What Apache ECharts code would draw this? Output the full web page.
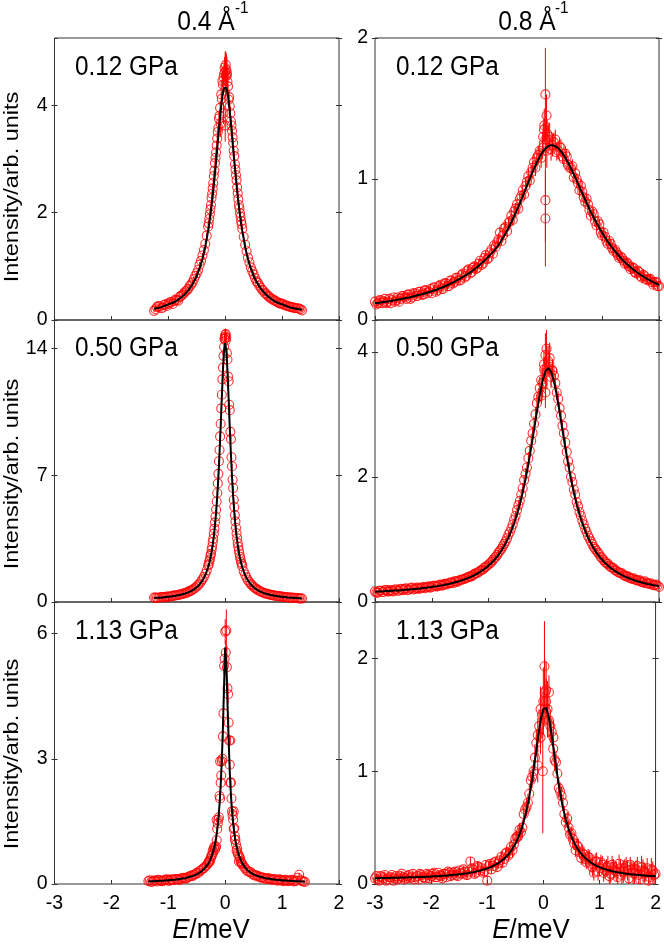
<!DOCTYPE html>
<html>
<head>
<meta charset="utf-8">
<script src="https://cdn.jsdelivr.net/npm/echarts@6/dist/echarts.min.js"></script>
<style>
html,body{margin:0;padding:0;background:#fff;}
#chart{width:664px;height:944px;}
</style>
</head>
<body>
<div id="chart"></div>
<script>
// ---------------- DATA ----------------
// Energy grids, left column (Q = 0.4 1/Å): two interleaved sets
const xL = [-1.35,-1.30,-1.25,-1.20,-1.15,-1.10,-1.05,-1.00,-0.95,-0.90,-0.85,-0.80,-0.75,-0.70,-0.65,-0.60,-0.55,-0.50,-0.45,-0.40,-0.35,
 -0.30,-0.28,-0.26,-0.24,-0.22,-0.20,-0.18,-0.16,-0.14,-0.12,-0.10,-0.08,-0.06,-0.04,-0.02,0.00,0.02,0.04,0.06,0.08,0.10,0.12,0.14,0.16,0.18,0.20,0.22,0.24,0.26,0.28,0.30,
 0.35,0.40,0.45,0.50,0.55,0.60,0.65,0.70,0.75,0.80,0.85,0.90,0.95,1.00,1.05,1.10,1.15,1.20,1.25,1.30,1.35,1.40];
const xL2 = [-1.325,-1.275,-1.225,-1.175,-1.125,-1.075,-1.025,-0.975,-0.925,-0.875,-0.825,-0.775,-0.725,-0.675,-0.625,-0.575,-0.525,-0.475,-0.425,-0.375,-0.325,
 -0.29,-0.27,-0.25,-0.23,-0.21,-0.19,-0.17,-0.15,-0.13,-0.11,-0.09,-0.07,-0.05,-0.03,-0.01,0.01,0.03,0.05,0.07,0.09,0.11,0.13,0.15,0.17,0.19,0.21,0.23,0.25,0.27,0.29,
 0.325,0.375,0.425,0.475,0.525,0.575,0.625,0.675,0.725,0.775,0.825,0.875,0.925,0.975,1.025,1.075,1.125,1.175,1.225,1.275,1.325,1.375];

// Energy grids, right column (Q = 0.8 1/Å): two interleaved sets
const xR = [-3.00,-2.95,-2.90,-2.85,-2.80,-2.75,-2.70,-2.65,-2.60,-2.55,
 -2.50,-2.45,-2.40,-2.35,-2.30,-2.25,-2.20,-2.15,-2.10,-2.05,
 -2.00,-1.95,-1.90,-1.85,-1.80,-1.75,-1.70,-1.65,-1.60,-1.55,
 -1.50,-1.45,-1.40,-1.35,-1.30,-1.25,-1.20,-1.15,-1.10,-1.05,
 -1.00,-0.95,-0.90,-0.85,-0.80,-0.75,-0.70,-0.65,-0.60,-0.55,
 -0.50,-0.45,-0.40,-0.35,-0.30,-0.25,-0.20,-0.15,-0.10,-0.05,
 0.00,0.05,0.10,0.15,0.20,0.25,0.30,0.35,0.40,0.45,
 0.50,0.55,0.60,0.65,0.70,0.75,0.80,0.85,0.90,0.95,
 1.00,1.05,1.10,1.15,1.20,1.25,1.30,1.35,1.40,1.45,
 1.50,1.55,1.60,1.65,1.70,1.75,1.80,1.85,1.90,1.95,
 2.00];
const xR2 = [-2.975,-2.925,-2.875,-2.825,-2.775,-2.725,-2.675,-2.625,-2.575,-2.525,
 -2.475,-2.425,-2.375,-2.325,-2.275,-2.225,-2.175,-2.125,-2.075,-2.025,
 -1.975,-1.925,-1.875,-1.825,-1.775,-1.725,-1.675,-1.625,-1.575,-1.525,
 -1.475,-1.425,-1.375,-1.325,-1.275,-1.225,-1.175,-1.125,-1.075,-1.025,
 -0.975,-0.925,-0.875,-0.825,-0.775,-0.725,-0.675,-0.625,-0.575,-0.525,
 -0.475,-0.425,-0.375,-0.325,-0.275,-0.225,-0.175,-0.125,-0.075,-0.025,
 0.025,0.075,0.125,0.175,0.225,0.275,0.325,0.375,0.425,0.475,
 0.525,0.575,0.625,0.675,0.725,0.775,0.825,0.875,0.925,0.975,
 1.025,1.075,1.125,1.175,1.225,1.275,1.325,1.375,1.425,1.475,
 1.525,1.575,1.625,1.675,1.725,1.775,1.825,1.875,1.925,1.975];

// Panel A: 0.4 1/Å, 0.12 GPa
const fitA = [null,null,0.21,0.22,0.23,0.25,0.27,0.29,0.31,0.33,0.36,0.40,0.44,0.49,0.55,0.62,0.71,0.82,0.96,1.13,1.36,
 1.66,1.79,1.95,2.12,2.30,2.51,2.73,2.95,3.19,3.43,3.67,3.89,4.08,4.23,4.32,4.35,4.32,4.23,4.08,3.89,3.67,3.43,3.19,2.95,2.73,2.51,2.30,2.12,1.95,1.79,1.66,
 1.36,1.13,0.96,0.82,0.71,0.62,0.55,0.49,0.44,0.40,0.36,0.33,0.31,0.29,0.27,0.25,0.23,0.22,0.21,0.20,0.19,null];
const yA = [null,null,0.17,0.24,0.25,0.23,0.29,0.30,0.33,0.35,0.37,0.43,0.47,0.53,0.58,0.66,0.76,0.87,1.03,1.20,1.42,
 1.74,1.88,2.06,2.27,2.45,2.68,2.92,3.12,3.38,3.58,3.80,3.66,4.12,4.38,4.58,4.62,4.66,4.44,4.10,3.98,3.70,3.52,3.30,3.05,2.80,2.60,2.36,2.14,1.99,1.84,1.70,
 1.40,1.16,0.98,0.85,0.72,0.64,0.56,0.50,0.45,0.40,0.37,0.34,0.31,0.30,0.27,0.26,0.24,0.23,0.22,0.21,0.18,null];
const yA2 = [null,null,0.20,0.26,0.22,0.28,0.26,0.33,0.30,0.38,0.36,0.45,0.50,0.55,0.63,0.70,0.82,0.93,1.10,1.30,1.57,
 1.80,1.97,2.14,2.35,2.55,2.78,3.02,3.25,3.50,3.75,3.95,4.20,4.45,4.52,4.70,4.55,4.60,4.35,4.15,3.85,3.62,3.40,3.15,2.90,2.70,2.47,2.25,2.08,1.92,1.78,
 1.55,1.28,1.07,0.91,0.78,0.69,0.60,0.54,0.48,0.43,0.39,0.36,0.33,0.31,0.29,0.27,0.25,0.24,0.22,0.22,0.20,null];
const eA = [0,0,0.03,0.03,0.03,0.03,0.03,0.03,0.03,0.03,0.03,0.03,0.03,0.04,0.04,0.04,0.04,0.05,0.05,0.05,0.06,
 0.06,0.07,0.07,0.07,0.08,0.08,0.08,0.09,0.10,0.10,0.12,0.25,0.12,0.15,0.20,0.38,0.30,0.18,0.14,0.12,0.10,0.10,0.09,0.08,0.08,0.08,0.07,0.07,0.07,0.06,0.06,
 0.06,0.05,0.05,0.05,0.04,0.04,0.04,0.04,0.03,0.03,0.03,0.03,0.03,0.03,0.03,0.03,0.03,0.03,0.03,0.03,0.03,0];
const extraA = [[0.00,3.62,0.30],[0.01,4.75,0.25],[-0.03,3.85,0.20],[0.03,4.55,0.20]];

// Panel C: 0.4 1/Å, 0.50 GPa
const fitC = [null,null,0.22,0.23,0.24,0.25,0.27,0.29,0.31,0.33,0.36,0.39,0.43,0.47,0.53,0.60,0.70,0.81,0.97,1.18,1.48,
 1.92,2.15,2.42,2.75,3.15,3.63,4.22,4.94,5.82,6.90,8.19,9.67,11.26,12.77,13.89,14.30,13.89,12.77,11.26,9.67,8.19,6.90,5.82,4.94,4.22,3.63,3.15,2.75,2.42,2.15,1.92,
 1.48,1.18,0.97,0.81,0.70,0.60,0.53,0.47,0.43,0.39,0.36,0.33,0.31,0.29,0.27,0.25,0.24,0.23,0.22,0.21,0.20,null];
const yC = [null,null,0.25,0.23,0.26,0.27,0.27,0.30,0.32,0.35,0.37,0.41,0.45,0.49,0.56,0.63,0.73,0.86,1.02,1.25,1.56,
 2.02,2.25,2.55,2.88,3.30,3.78,4.40,5.10,6.02,7.08,8.40,9.85,11.45,12.95,14.10,14.75,14.60,13.40,12.20,10.60,9.00,7.50,6.30,5.25,4.45,3.80,3.25,2.85,2.50,2.20,1.98,
 1.52,1.20,0.99,0.83,0.71,0.61,0.53,0.47,0.43,0.39,0.36,0.33,0.31,0.29,0.27,0.25,0.24,0.22,0.22,0.20,0.19,null];
const yC2 = [null,null,0.24,0.22,0.26,0.25,0.30,0.29,0.34,0.36,0.39,0.43,0.47,0.52,0.60,0.68,0.79,0.94,1.13,1.38,1.75,
 2.08,2.35,2.66,3.05,3.50,4.05,4.72,5.55,6.55,7.78,9.15,10.70,12.30,13.60,14.55,14.45,13.75,12.45,10.90,9.40,8.00,6.75,5.65,4.80,4.10,3.52,3.05,2.68,2.36,2.10,
 1.70,1.36,1.10,0.92,0.77,0.67,0.58,0.51,0.46,0.42,0.38,0.35,0.33,0.31,0.29,0.27,0.25,0.24,0.23,0.21,0.20,null];
const eC = [0,0,0.03,0.03,0.03,0.03,0.03,0.03,0.03,0.03,0.03,0.03,0.03,0.03,0.03,0.04,0.04,0.04,0.05,0.05,0.06,
 0.06,0.07,0.07,0.08,0.08,0.09,0.10,0.11,0.12,0.13,0.15,0.16,0.18,0.20,0.22,0.35,0.25,0.20,0.18,0.16,0.15,0.13,0.12,0.11,0.10,0.09,0.08,0.08,0.07,0.07,0.06,
 0.06,0.05,0.05,0.04,0.04,0.04,0.03,0.03,0.03,0.03,0.03,0.03,0.03,0.03,0.03,0.03,0.03,0.03,0.03,0.03,0.03,0];
const extraC = [[0.00,14.65,0.35],[-0.01,14.55,0.30],[0.01,14.80,0.30]];

// Panel E: 0.4 1/Å, 1.13 GPa
const fitE = [0.062,0.065,0.068,0.072,0.075,0.080,0.085,0.090,0.095,0.100,0.110,0.120,0.130,0.140,0.160,0.180,0.200,0.230,0.270,0.320,0.400,
 0.48,0.53,0.59,0.66,0.74,0.84,0.96,1.11,1.30,1.56,1.90,2.35,2.95,3.75,4.75,5.67,5.25,4.35,3.45,2.70,2.15,1.75,1.45,1.22,1.04,0.90,0.79,0.70,0.62,0.56,0.50,
 0.40,0.32,0.27,0.23,0.20,0.18,0.16,0.14,0.13,0.12,0.11,0.10,0.095,0.090,0.085,0.080,0.075,0.072,0.068,0.065,0.062,0.060];
const yE = [0.07,0.05,0.08,0.06,0.09,0.07,0.10,0.08,0.11,0.09,0.12,0.10,0.14,0.13,0.17,0.20,0.22,0.27,0.31,0.36,0.42,
 0.50,0.56,0.60,0.68,0.80,0.86,0.82,0.90,1.32,1.54,2.11,2.43,2.94,3.54,5.23,6.05,6.08,4.69,3.87,2.86,2.43,1.74,1.54,1.34,1.06,0.80,0.74,0.54,0.62,0.52,0.47,
 0.38,0.30,0.28,0.22,0.21,0.17,0.16,0.13,0.14,0.11,0.12,0.09,0.11,0.08,0.10,0.07,0.09,0.06,0.08,0.22,0.07,0.05];
const yE2 = [0.09,0.06,0.08,0.10,0.07,0.09,0.11,0.08,0.10,0.12,0.11,0.13,0.15,0.14,0.18,0.19,0.24,0.26,0.33,0.38,0.45,
 0.52,0.54,0.64,0.70,0.76,0.90,0.88,1.05,1.45,1.60,2.05,2.60,3.00,4.09,5.40,5.55,5.20,4.55,3.44,2.43,2.05,1.65,1.32,1.15,0.95,0.85,0.70,0.66,0.55,0.50,
 0.42,0.33,0.29,0.24,0.20,0.19,0.15,0.15,0.12,0.13,0.10,0.11,0.08,0.10,0.07,0.09,0.08,0.10,0.07,0.15,0.09,0.06];
const eE = [0.03,0.02,0.03,0.02,0.03,0.02,0.03,0.02,0.03,0.02,0.03,0.02,0.03,0.03,0.03,0.03,0.03,0.04,0.04,0.04,0.05,
 0.05,0.05,0.05,0.06,0.06,0.06,0.06,0.07,0.07,0.08,0.09,0.10,0.12,0.14,0.20,0.30,0.50,0.22,0.15,0.12,0.10,0.09,0.08,0.07,0.07,0.06,0.06,0.06,0.05,0.05,0.05,
 0.04,0.04,0.04,0.03,0.03,0.03,0.03,0.02,0.03,0.02,0.03,0.02,0.03,0.02,0.03,0.02,0.03,0.02,0.03,0.05,0.03,0.02];
const extraE = [[0.09,3.44,0.10],[-0.09,2.94,0.10],[0.15,1.74,0.06],[-0.15,1.54,0.06],[0.17,1.06,0.05]];

// Panel B: 0.8 1/Å, 0.12 GPa
const fitB = [0.118,0.121,0.124,0.127,0.130,0.133,0.137,0.140,0.144,0.148,
 0.152,0.156,0.160,0.165,0.170,0.175,0.180,0.186,0.192,0.198,
 0.204,0.211,0.218,0.226,0.234,0.243,0.252,0.262,0.272,0.283,
 0.294,0.306,0.318,0.331,0.345,0.360,0.376,0.393,0.411,0.430,
 0.450,0.471,0.494,0.519,0.548,0.580,0.615,0.653,0.693,0.736,
 0.781,0.828,0.877,0.927,0.977,1.027,1.074,1.118,1.158,1.191,
 1.216,1.233,1.240,1.237,1.227,1.209,1.183,1.152,1.116,1.076,
 1.033,0.988,0.943,0.898,0.853,0.809,0.767,0.727,0.688,0.652,
 0.618,0.585,0.555,0.527,0.500,0.475,0.452,0.430,0.410,0.391,
 0.374,0.357,0.342,0.328,0.314,0.302,0.290,0.279,0.269,0.259,
 0.250];
const yB = [0.13,0.12,0.14,0.13,0.12,0.15,0.14,0.13,0.16,0.15,
 0.17,0.15,0.18,0.16,0.19,0.17,0.20,0.18,0.21,0.20,
 0.19,0.23,0.21,0.25,0.22,0.26,0.24,0.28,0.27,0.30,
 0.28,0.33,0.31,0.36,0.34,0.38,0.37,0.42,0.40,0.46,
 0.44,0.50,0.53,0.55,0.62,0.60,0.66,0.69,0.74,0.77,
 0.82,0.86,0.92,0.95,1.02,1.05,1.12,1.15,1.20,1.22,
 1.28,1.28,1.21,1.26,1.19,1.23,1.16,1.18,1.10,1.08,
 1.01,1.00,0.92,0.91,0.84,0.82,0.74,0.75,0.67,0.68,
 0.60,0.59,0.54,0.54,0.49,0.48,0.44,0.44,0.40,0.40,
 0.36,0.37,0.33,0.34,0.30,0.31,0.28,0.29,0.25,0.27,
 0.24];
const yB2 = [0.11,0.14,0.12,0.15,0.13,0.12,0.16,0.14,0.13,0.17,
 0.16,0.18,0.15,0.19,0.17,0.20,0.18,0.21,0.19,0.22,
 0.23,0.20,0.24,0.22,0.26,0.24,0.28,0.26,0.30,0.28,
 0.32,0.30,0.35,0.33,0.37,0.36,0.40,0.39,0.44,0.43,
 0.48,0.47,0.52,0.57,0.56,0.65,0.63,0.70,0.71,0.79,
 0.79,0.88,0.89,0.98,0.99,1.08,1.08,1.17,1.15,1.35,
 1.20,1.30,1.24,1.28,1.20,1.22,1.14,1.16,1.08,1.09,
 1.04,0.97,0.95,0.87,0.86,0.78,0.77,0.70,0.70,0.62,
 0.62,0.56,0.56,0.51,0.50,0.46,0.45,0.42,0.41,0.38,
 0.37,0.34,0.35,0.31,0.32,0.29,0.29,0.27,0.27,0.24];
const eB = [0.02,0.03,0.02,0.02,0.03,0.02,0.02,0.03,0.02,0.02,
 0.03,0.02,0.02,0.03,0.02,0.02,0.03,0.02,0.02,0.03,
 0.02,0.02,0.03,0.02,0.02,0.03,0.02,0.02,0.03,0.02,
 0.03,0.02,0.03,0.03,0.02,0.03,0.03,0.02,0.03,0.03,
 0.03,0.03,0.03,0.04,0.03,0.03,0.04,0.03,0.04,0.04,
 0.04,0.04,0.04,0.04,0.05,0.05,0.06,0.06,0.07,0.08,
 0.12,0.10,0.08,0.07,0.06,0.06,0.05,0.05,0.04,0.05,
 0.04,0.04,0.05,0.04,0.04,0.04,0.03,0.04,0.04,0.03,
 0.04,0.03,0.04,0.03,0.03,0.04,0.03,0.03,0.04,0.03,
 0.03,0.04,0.03,0.03,0.04,0.03,0.03,0.04,0.03,0.03,
 0.04];
const extraB = [[0.00,1.60,0.33],[0.00,0.85,0.30],[0.00,0.72,0.34],[0.02,1.45,0.15],[-0.02,1.38,0.12],[0.03,1.32,0.10],[-0.04,1.30,0.10]];

// Panel D: 0.8 1/Å, 0.50 GPa
const fitD = [0.165,0.167,0.169,0.171,0.174,0.176,0.179,0.182,0.185,0.188,
 0.192,0.195,0.199,0.203,0.208,0.212,0.217,0.222,0.228,0.234,
 0.240,0.247,0.254,0.262,0.270,0.280,0.289,0.300,0.312,0.324,
 0.338,0.353,0.369,0.388,0.407,0.429,0.454,0.481,0.511,0.544,
 0.582,0.624,0.672,0.726,0.787,0.857,0.938,1.030,1.136,1.259,
 1.400,1.564,1.751,1.965,2.206,2.471,2.753,3.040,3.310,3.536,
 3.687,3.740,3.687,3.536,3.310,3.040,2.753,2.471,2.206,1.965,
 1.751,1.564,1.400,1.259,1.136,1.030,0.938,0.857,0.787,0.726,
 0.672,0.624,0.582,0.544,0.511,0.481,0.454,0.429,0.407,0.388,
 0.369,0.353,0.338,0.324,0.312,0.300,0.289,0.280,0.270,0.262,
 0.254];
const yD = [0.17,0.15,0.18,0.16,0.19,0.17,0.18,0.20,0.18,0.21,
 0.19,0.22,0.20,0.23,0.21,0.23,0.22,0.24,0.23,0.25,
 0.24,0.26,0.25,0.28,0.27,0.29,0.30,0.31,0.33,0.32,
 0.35,0.36,0.38,0.40,0.41,0.45,0.46,0.50,0.52,0.56,
 0.60,0.64,0.70,0.75,0.82,0.89,0.97,1.08,1.18,1.32,
 1.47,1.62,1.82,2.05,2.30,2.58,2.85,3.18,3.42,3.50,
 3.95,3.85,3.60,3.62,3.35,3.10,2.82,2.55,2.25,2.00,
 1.80,1.60,1.44,1.30,1.17,1.06,0.97,0.88,0.82,0.76,
 0.70,0.64,0.61,0.56,0.54,0.50,0.47,0.46,0.42,0.41,
 0.38,0.38,0.35,0.35,0.32,0.33,0.30,0.30,0.27,0.28,
 0.24];
const yD2 = [0.15,0.18,0.16,0.19,0.17,0.19,0.17,0.20,0.18,0.20,
 0.21,0.19,0.22,0.20,0.22,0.21,0.23,0.22,0.24,0.23,
 0.26,0.25,0.27,0.26,0.29,0.28,0.31,0.30,0.33,0.34,
 0.36,0.37,0.39,0.41,0.43,0.46,0.48,0.51,0.55,0.58,
 0.62,0.67,0.72,0.79,0.85,0.93,1.02,1.12,1.24,1.38,
 1.55,1.72,1.95,2.15,2.42,2.70,3.00,3.28,3.55,3.80,
 3.75,3.90,3.70,3.50,3.25,2.98,2.70,2.40,2.15,1.92,
 1.72,1.53,1.38,1.24,1.12,1.02,0.93,0.85,0.79,0.72,
 0.67,0.62,0.58,0.55,0.51,0.48,0.46,0.43,0.41,0.39,
 0.37,0.36,0.34,0.33,0.31,0.30,0.29,0.28,0.27,0.26];
const eD = [0.02,0.03,0.02,0.02,0.03,0.02,0.03,0.02,0.02,0.03,
 0.02,0.03,0.02,0.03,0.02,0.02,0.03,0.02,0.03,0.02,
 0.03,0.02,0.03,0.02,0.03,0.03,0.02,0.03,0.03,0.03,
 0.03,0.03,0.03,0.03,0.03,0.04,0.03,0.04,0.04,0.04,
 0.04,0.04,0.04,0.05,0.05,0.05,0.05,0.06,0.06,0.07,
 0.07,0.08,0.08,0.09,0.10,0.11,0.12,0.14,0.18,0.22,
 0.35,0.25,0.18,0.14,0.12,0.10,0.09,0.08,0.08,0.07,
 0.07,0.06,0.06,0.05,0.05,0.05,0.04,0.04,0.04,0.04,
 0.04,0.03,0.04,0.03,0.03,0.04,0.03,0.03,0.03,0.03,
 0.03,0.03,0.03,0.03,0.03,0.03,0.03,0.03,0.03,0.03,
 0.03];
const extraD = [[0.00,3.35,0.25],[0.02,4.05,0.30],[-0.02,3.72,0.20],[0.07,3.80,0.15],[-0.07,3.30,0.12],[0.12,3.70,0.12]];

// Panel F: 0.8 1/Å, 1.13 GPa
const fitF = [0.052,0.052,0.053,0.053,0.054,0.054,0.055,0.055,0.056,0.057,
 0.057,0.058,0.059,0.059,0.060,0.061,0.062,0.063,0.064,0.065,
 0.067,0.068,0.069,0.071,0.073,0.074,0.076,0.079,0.081,0.083,
 0.086,0.089,0.093,0.096,0.101,0.105,0.110,0.116,0.123,0.130,
 0.138,0.148,0.159,0.172,0.186,0.204,0.224,0.248,0.277,0.312,
 0.355,0.408,0.473,0.553,0.653,0.777,0.927,1.099,1.282,1.447,
 1.551,1.562,1.474,1.318,1.136,0.960,0.805,0.676,0.572,0.487,
 0.420,0.365,0.320,0.284,0.254,0.229,0.208,0.190,0.174,0.161,
 0.150,0.140,0.132,0.124,0.117,0.111,0.106,0.101,0.097,0.093,
 0.090,0.087,0.084,0.081,0.079,0.077,0.075,0.073,0.071,0.070,
 0.068];
const yF = [0.05,0.04,0.07,0.05,0.03,0.06,0.08,0.05,0.04,0.07,
 0.06,0.05,0.08,0.06,0.04,0.07,0.09,0.06,0.05,0.08,
 0.07,0.10,0.06,0.08,0.05,0.09,0.11,0.07,0.10,0.08,
 0.12,0.09,0.11,0.08,0.20,0.13,0.10,0.15,0.14,0.11,
 0.03,0.18,0.16,0.20,0.18,0.24,0.22,0.28,0.27,0.30,
 0.40,0.42,0.46,0.62,0.68,0.80,0.95,1.12,1.32,1.55,
 1.62,1.72,1.45,1.35,1.10,0.98,0.82,0.72,0.55,0.50,
 0.45,0.36,0.34,0.28,0.27,0.22,0.24,0.18,0.10,0.20,
 0.14,0.17,0.12,0.16,0.09,0.15,0.11,0.18,0.08,0.14,
 0.12,0.17,0.10,0.13,0.08,0.15,0.11,0.14,0.06,0.12,
 0.09];
const yF2 = [0.07,0.03,0.06,0.08,0.04,0.06,0.03,0.07,0.05,0.09,
 0.04,0.07,0.05,0.09,0.06,0.04,0.08,0.06,0.09,0.05,
 0.09,0.06,0.10,0.07,0.09,0.06,0.10,0.08,0.11,0.07,
 0.10,0.13,0.08,0.11,0.14,0.09,0.16,0.12,0.10,0.17,
 0.16,0.13,0.19,0.15,0.21,0.19,0.27,0.25,0.33,0.35,
 0.42,0.48,0.50,0.66,0.72,0.92,1.00,1.25,1.40,1.50,
 1.70,1.55,1.40,1.20,1.08,0.85,0.78,0.62,0.58,0.44,
 0.40,0.30,0.33,0.23,0.26,0.19,0.23,0.15,0.20,0.11,
 0.19,0.10,0.15,0.07,0.17,0.12,0.06,0.14,0.11,0.16,
 0.05,0.13,0.09,0.16,0.04,0.12,0.10,0.03,0.13,0.08];
const eF = [0.02,0.03,0.02,0.03,0.02,0.03,0.02,0.03,0.03,0.02,
 0.03,0.02,0.03,0.03,0.02,0.03,0.03,0.02,0.03,0.03,
 0.03,0.03,0.02,0.03,0.03,0.03,0.03,0.03,0.03,0.03,
 0.03,0.03,0.04,0.03,0.04,0.03,0.04,0.04,0.03,0.04,
 0.04,0.04,0.03,0.04,0.04,0.05,0.04,0.05,0.05,0.06,
 0.05,0.06,0.07,0.07,0.08,0.09,0.10,0.12,0.15,0.20,
 0.30,0.25,0.15,0.12,0.10,0.09,0.08,0.07,0.06,0.07,
 0.06,0.06,0.07,0.06,0.07,0.06,0.07,0.08,0.07,0.08,
 0.07,0.08,0.07,0.09,0.08,0.07,0.09,0.08,0.10,0.08,
 0.09,0.07,0.10,0.08,0.09,0.10,0.08,0.09,0.10,0.08,
 0.09];
const extraF = [[0.02,1.93,0.40],[-0.01,1.00,0.55],[0.05,1.62,0.20],[-0.10,1.05,0.15],[0.18,1.30,0.15],[-0.05,1.30,0.15],[0.10,1.70,0.15]];

// Text / ticks
const columnTitles = ['0.4 Å', '0.8 Å'];
const pressureLabels = ['0.12 GPa', '0.50 GPa', '1.13 GPa'];
const yAxisTitle = 'Intensity/arb. units';
const yMax = [5.25, 2, 15.58, 4.51, 6.76, 2.5];
const yInterval = [2, 1, 7, 2, 3, 1];
const xMin = -3, xMax = 2, xInterval = 1;

// ---------------- LAYOUT ----------------
const FONT = "'Liberation Sans', Arial, sans-serif";
const colLeft = [54.5, 375];
const colWidth = [284.5, 284];
const rowTop = [38, 320, 602];
const rowHeight = 282;
const RED = '#ff0000';
const AX = '#333333';

const panels = [
  {x: xL, y: yA, x2: xL2, y2: yA2, e: eA, fit: fitA, extra: extraA},
  {x: xR, y: yB, x2: xR2, y2: yB2, e: eB, fit: fitB, extra: extraB},
  {x: xL, y: yC, x2: xL2, y2: yC2, e: eC, fit: fitC, extra: extraC},
  {x: xR, y: yD, x2: xR2, y2: yD2, e: eD, fit: fitD, extra: extraD},
  {x: xL, y: yE, x2: xL2, y2: yE2, e: eE, fit: fitE, extra: extraE},
  {x: xR, y: yF, x2: xR2, y2: yF2, e: eF, fit: fitF, extra: extraF}
];

const grid = [], xAxis = [], yAxis = [], series = [];
panels.forEach((p, i) => {
  const row = Math.floor(i / 2), col = i % 2;
  grid.push({left: colLeft[col], top: rowTop[row], width: colWidth[col], height: rowHeight,
    show: true, borderColor: AX, borderWidth: 1, backgroundColor: 'transparent'});
  xAxis.push({type: 'value', gridIndex: i, min: xMin, max: xMax, interval: xInterval,
    axisLine: {show: false, onZero: false}, splitLine: {show: false},
    axisTick: {show: true, inside: true, length: 4, lineStyle: {color: AX, width: 1}},
    axisLabel: {show: row === 2, color: '#000', fontSize: 19.5, fontFamily: FONT, margin: 10}});
  const mk = (pos, inside, labels) => ({type: 'value', gridIndex: i, position: pos, min: 0, max: yMax[i], interval: yInterval[i],
    axisLine: {show: false, onZero: false}, splitLine: {show: false},
    axisTick: {show: true, inside: inside, length: 3, lineStyle: {color: AX, width: 1}},
    axisLabel: {show: labels, color: '#000', fontSize: 19.5, fontFamily: FONT, margin: 7, showMaxLabel: yMax[i] % yInterval[i] === 0}});
  const yi = yAxis.length;
  yAxis.push(mk('left', false, true));
  yAxis.push(mk('left', true, false));
  yAxis.push(mk('right', false, false));
  yAxis.push(mk('right', true, false));

  const pts = [];
  for (let k = 0; k < Math.min(p.x.length, p.y.length, p.e.length); k++) if (p.y[k] !== null) pts.push([p.x[k], p.y[k], p.e[k]]);
  for (let k = 0; k < Math.min(p.x2.length, p.y2.length, p.e.length); k++) if (p.y2[k] !== null) pts.push([p.x2[k], p.y2[k], p.e[k]]);
  p.extra.forEach(d => pts.push(d));
  const fitPts = [];
  for (let k = 0; k < Math.min(p.x.length, p.fit.length); k++) if (p.fit[k] !== null) fitPts.push([p.x[k], p.fit[k]]);

  series.push({type: 'custom', xAxisIndex: i, yAxisIndex: yi, clip: true, silent: true, z: 1,
    data: pts.map(d => [d[0], d[1] - d[2], d[1] + d[2]]),
    encode: {x: 0, y: [1, 2]},
    renderItem: (params, api) => {
      const a = api.coord([api.value(0), api.value(1)]);
      const b = api.coord([api.value(0), api.value(2)]);
      return {type: 'line', shape: {x1: a[0], y1: a[1], x2: b[0], y2: b[1]}, style: {stroke: RED, lineWidth: 1}};
    }});
  series.push({type: 'scatter', xAxisIndex: i, yAxisIndex: yi, z: 2, silent: true,
    symbol: 'circle', symbolSize: 9,
    itemStyle: {color: 'rgba(0,0,0,0)', borderColor: RED, borderWidth: 1.1},
    data: pts.map(d => [d[0], d[1]])});
  series.push({type: 'line', xAxisIndex: i, yAxisIndex: yi, z: 3, silent: true,
    showSymbol: false, symbol: 'none', lineStyle: {color: '#000', width: 2}, data: fitPts});
});

// ---------------- TEXT ----------------
const graphic = [];
const txt = (x, y, text, size, sx, align) => ({type: 'text', x: x, y: y, scaleX: sx, z: 10,
  style: {text: text, fontSize: size, fontFamily: FONT, fill: '#000', align: align, verticalAlign: 'middle', textAlign: align, textVerticalAlign: 'middle'}});
const colTitleX = [206, 527];
const supX = [235, 555];
columnTitles.forEach((t, c) => {
  graphic.push(txt(colTitleX[c], 22, t, 28, 0.88, 'center'));
  graphic.push(txt(supX[c], 8, '-1', 17, 0.9, 'left'));
});
const labelY = [67.5, 349, 632];
const labelX = [75, 396];
pressureLabels.forEach((t, r) => {
  [0, 1].forEach(c => graphic.push(txt(labelX[c], labelY[r], t, 27, 0.9, 'left')));
});
const yTitleY = [187, 474, 754];
yTitleY.forEach(yy => {
  graphic.push({type: 'text', x: 12, y: yy, rotation: Math.PI / 2, scaleY: 0.86, z: 10,
    style: {text: yAxisTitle, fontSize: 23.5, fontFamily: FONT, fill: '#000', align: 'center', verticalAlign: 'middle', textAlign: 'center', textVerticalAlign: 'middle'}});
});
const xTitleX = [211, 531];
xTitleX.forEach(xx => {
  graphic.push({type: 'text', x: xx, y: 930, scaleX: 0.92, z: 10,
    style: {text: '{i|E}{n|/meV}', fontSize: 28, fontFamily: FONT, fill: '#000', align: 'center', verticalAlign: 'middle', textAlign: 'center', textVerticalAlign: 'middle',
      rich: {i: {fontStyle: 'italic', fontSize: 28, fontFamily: FONT, fill: '#000', color: '#000'},
             n: {fontSize: 28, fontFamily: FONT, fill: '#000', color: '#000'}}}});
});

const chart = echarts.init(document.getElementById('chart'), null, {renderer: 'canvas'});
chart.setOption({animation: false, backgroundColor: '#fff', grid, xAxis, yAxis, series, graphic});
</script>
</body>
</html>
